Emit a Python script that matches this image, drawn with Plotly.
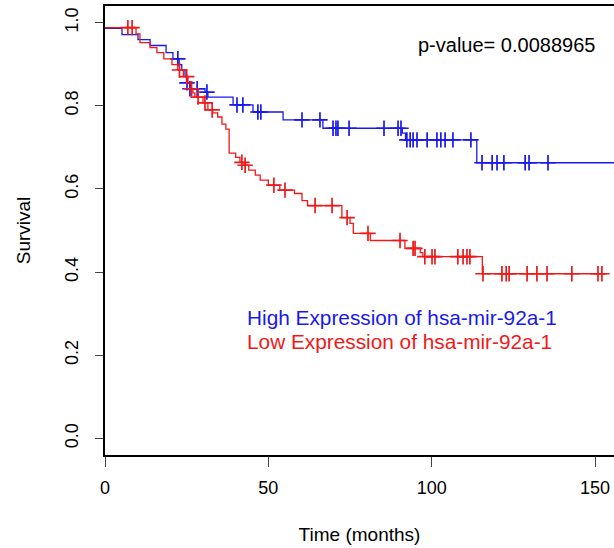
import numpy as np
import plotly.graph_objects as go

# Kaplan-Meier steps (time in months, survival after the drop)
high_times = [0, 5.2, 10.1, 13.8, 18.7, 20.8, 22.7, 23.5, 24.5, 25.1, 26.0, 30.6, 31.5,
              39.2, 45.3, 54.5, 66.7, 91.0, 92.0, 113.8]
high_surv = [0.986, 0.971, 0.959, 0.945, 0.928, 0.913, 0.899, 0.886, 0.870, 0.855, 0.841,
             0.833, 0.821, 0.802, 0.785, 0.766, 0.746, 0.734, 0.718, 0.663]
high_end = 158
high_censor = [22.3, 25.1, 26.0, 28.2, 31.2, 40.4, 42.2, 46.8, 47.7, 60.3, 65.8, 69.8, 70.7,
               71.3, 74.7, 85.4, 89.7, 90.6, 92.4, 93.4, 94.3, 95.5, 98.6, 101.6, 102.8,
               104.1, 106.5, 112.0, 115.4, 118.5, 120.0, 122.1, 128.6, 129.8, 135.6]

low_times = [0, 9.5, 10.7, 13.8, 15.9, 18.0, 20.5, 22.3, 24.0, 25.4, 26.3, 26.9, 27.5, 30.0,
             31.5, 33.0, 34.5, 35.8, 37.0, 38.0, 40.0, 41.3, 42.5, 44.0, 46.0, 47.5, 50.0,
             53.5, 58.0, 60.3, 62.0, 72.5, 75.0, 76.0, 81.2, 91.8, 96.5, 97.3, 115.5]
low_surv = [0.988, 0.973, 0.952, 0.940, 0.928, 0.913, 0.899, 0.886, 0.870, 0.855, 0.841,
            0.831, 0.821, 0.807, 0.790, 0.783, 0.773, 0.756, 0.744, 0.686, 0.676, 0.664,
            0.657, 0.645, 0.633, 0.621, 0.609, 0.597, 0.589, 0.572, 0.560, 0.531, 0.517,
            0.493, 0.476, 0.457, 0.447, 0.437, 0.396]
low_end = 153.5
low_censor = [7.0, 8.3, 22.8, 25.0, 26.5, 28.5, 30.6, 32.8, 41.9, 42.9, 51.7, 55.1, 64.3,
              69.5, 74.1, 80.5, 90.3, 94.3, 94.9, 97.9, 100.1, 101.0, 108.0, 109.6, 110.8,
              111.7, 115.7, 121.5, 122.8, 123.7, 129.2, 132.2, 135.3, 142.9, 150.9, 152.1]

x_ticks = [0, 50, 100, 150]
y_ticks = [0.0, 0.2, 0.4, 0.6, 0.8, 1.0]

blue = "rgb(25,25,235)"
red = "rgb(240,25,25)"
font = "Arial, Liberation Sans, sans-serif"


def step_at(times, surv, t):
    i = np.searchsorted(times, t, side="right") - 1
    return surv[i]


fig = go.Figure()

for times, surv, end, cens, col in [
    (high_times, high_surv, high_end, high_censor, blue),
    (low_times, low_surv, low_end, low_censor, red),
]:
    fig.add_trace(go.Scatter(
        x=list(times) + [end], y=list(surv) + [surv[-1]],
        mode="lines", line=dict(color=col, width=1.3, shape="hv"),
        hoverinfo="skip", showlegend=False))
    fig.add_trace(go.Scatter(
        x=cens, y=[step_at(times, surv, t) for t in cens],
        mode="markers",
        marker=dict(symbol="cross-thin", size=11, line=dict(color=col, width=1.7)),
        showlegend=False))

fig.add_annotation(x=122.8, y=0.947, text="p-value= 0.0088965", showarrow=False,
                   font=dict(family=font, size=20, color="black"))
fig.add_annotation(x=43.0, y=0.29, text="High Expression of hsa-mir-92a-1", showarrow=False,
                   xanchor="left", font=dict(family=font, size=20.8, color=blue))
fig.add_annotation(x=43.0, y=0.232, text="Low Expression of hsa-mir-92a-1", showarrow=False,
                   xanchor="left", font=dict(family=font, size=20.8, color=red))

fig.update_layout(
    width=614, height=548,
    margin=dict(l=105, r=0, t=6, b=93),
    paper_bgcolor="white", plot_bgcolor="white",
    font=dict(family=font, size=18, color="black"),
    xaxis=dict(range=[0, 155.8], tickvals=x_ticks, ticks="outside", ticklen=10,
               tickcolor="#444", showline=True, linecolor="black", linewidth=1.5,
               mirror=True, showgrid=False, zeroline=False, ticklabelstandoff=6,
               title=dict(text="Time (months)", standoff=30, font=dict(size=19))),
    yaxis=dict(range=[-0.04, 1.04], tickvals=y_ticks, tickformat=".1f", ticks="outside",
               ticklen=8, tickcolor="#444", tickangle=-90, showline=True,
               linecolor="black", linewidth=1.5, showgrid=False, zeroline=False,
               ticklabelstandoff=10, title=dict(text="Survival", standoff=26,
                                                font=dict(size=19))),
)

fig.write_html("out.html", config={"displayModeBar": False},
               post_script="document.body.style.margin='0';")
